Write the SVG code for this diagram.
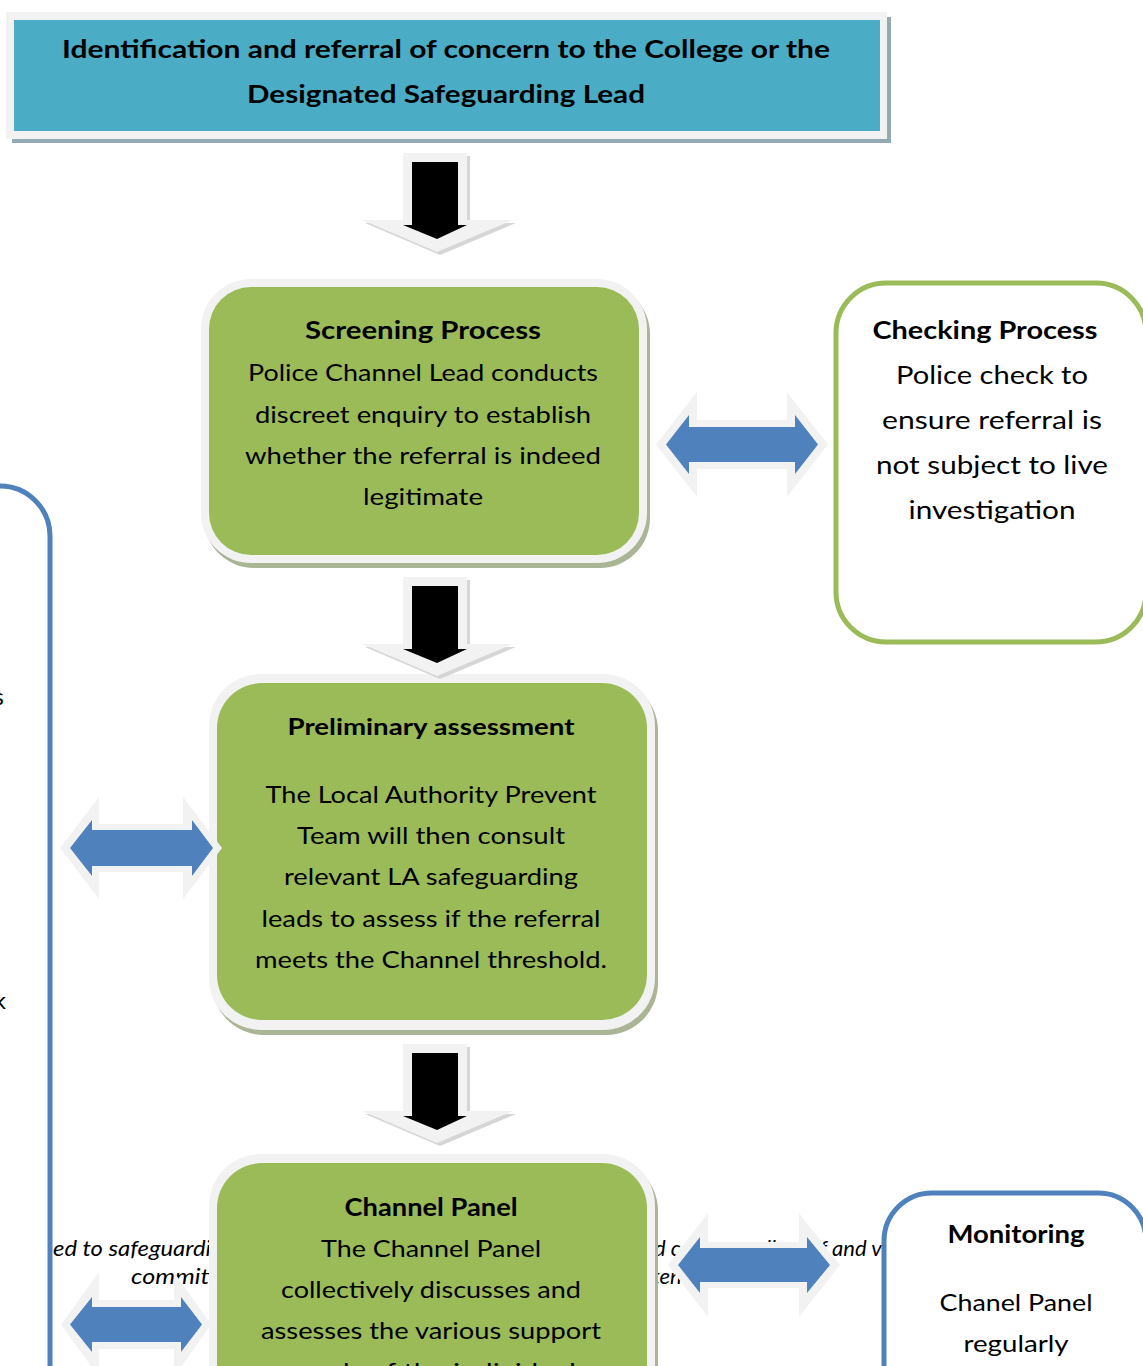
<svg xmlns="http://www.w3.org/2000/svg" xmlns:xlink="http://www.w3.org/1999/xlink" width="1143" height="1366" viewBox="0 0 1143 1366">
<defs>
<style>
.t{font-family:Lato,"Open Sans","Noto Sans",sans-serif;fill:#000;text-anchor:middle}
.b{font-weight:bold}
.i{font-family:Lato,"Open Sans","Noto Sans",sans-serif;font-style:italic;font-size:22px;fill:#000}
.frame{fill:#F2F2F2}
.gshadow{fill:#A9B595}
.green{fill:#9BBB59}
.halo{fill:#F2F2F2}
.blue{fill:#4F81BD}
.gline{fill:#fff;stroke:#9BBB59;stroke-width:5}
.bline{fill:#fff;stroke:#4F81BD;stroke-width:5}
</style>
<g id="downArrow">
<path d="M406 156 L470 156 L470 223 L516 223 L440 255 L365 223 L406 223 Z" fill="#D6D6D6"/>
<path d="M403 153 L467 153 L467 220 L513 220 L437 252 L362 220 L403 220 Z" fill="#F2F2F2"/>
<path d="M412 162 L458 162 L458 225 L467 225 L437 239 L403 225 L412 225 Z" fill="#000"/>
</g>
</defs>
<rect width="1143" height="1366" fill="#fff"/>

<!-- partially hidden italic text -->
<g id="hidden-text">
<text class="i" x="53" y="1256" textLength="158" lengthAdjust="spacingAndGlyphs">ed to safeguardi</text>
<text class="i" x="131" y="1284" textLength="86" lengthAdjust="spacingAndGlyphs">committ</text>
<text class="i" x="654" y="1256">d c</text>
<text class="i" x="766" y="1256">ll</text>
<text class="i" x="820" y="1256">f and v</text>
<text class="i" x="652" y="1284">ten</text>
</g>

<g id="node-left">
<rect x="-300" y="486" width="350" height="1000" rx="50" class="bline" stroke-width="6"/>
<text class="t" x="4" y="705" font-size="24" style="text-anchor:end">s</text>
<text class="t" x="6" y="1009" font-size="24" style="text-anchor:end">k</text>
</g>

<g id="node-referral">
<rect x="12" y="17" width="879" height="126" fill="#93A9B3"/>
<rect x="6" y="12" width="881" height="127" class="frame"/>
<rect x="14" y="20" width="866" height="111" fill="#4BACC6"/>
<text class="t b" x="446" y="58" font-size="24" textLength="768" lengthAdjust="spacingAndGlyphs">Identification and referral of concern to the College or the</text>
<text class="t b" x="446" y="103" font-size="24" textLength="398" lengthAdjust="spacingAndGlyphs">Designated Safeguarding Lead</text>
</g>

<g id="node-screening">
<rect x="204" y="284" width="446" height="284" rx="50" class="gshadow"/>
<rect x="201" y="279" width="446" height="284" rx="50" class="frame"/>
<rect x="209" y="287" width="430" height="268" rx="42" class="green"/>
<text class="t b" x="423" y="339" font-size="24" textLength="236" lengthAdjust="spacingAndGlyphs">Screening Process</text>
<text class="t" x="423" y="381" font-size="24" textLength="350" lengthAdjust="spacingAndGlyphs">Police Channel Lead conducts</text>
<text class="t" x="423" y="423" font-size="24" textLength="336" lengthAdjust="spacingAndGlyphs">discreet enquiry to establish</text>
<text class="t" x="423" y="464" font-size="24" textLength="356" lengthAdjust="spacingAndGlyphs">whether the referral is indeed</text>
<text class="t" x="423" y="505" font-size="24" textLength="120" lengthAdjust="spacingAndGlyphs">legitimate</text>
</g>

<g id="node-checking">
<rect x="836" y="283" width="310" height="359" rx="50" class="gline"/>
<text class="t b" x="985" y="339" font-size="25" textLength="225" lengthAdjust="spacingAndGlyphs">Checking Process</text>
<text class="t" x="992" y="384" font-size="25" textLength="192" lengthAdjust="spacingAndGlyphs">Police check to</text>
<text class="t" x="992" y="429" font-size="25" textLength="220" lengthAdjust="spacingAndGlyphs">ensure referral is</text>
<text class="t" x="992" y="474" font-size="25" textLength="232" lengthAdjust="spacingAndGlyphs">not subject to live</text>
<text class="t" x="992" y="519" font-size="25" textLength="167" lengthAdjust="spacingAndGlyphs">investigation</text>
</g>

<g id="node-preliminary">
<rect x="212" y="679" width="446" height="356" rx="52" class="gshadow"/>
<rect x="209" y="674" width="446" height="356" rx="52" class="frame"/>
<rect x="217" y="683" width="430" height="337" rx="45" class="green"/>
<text class="t b" x="431" y="735" font-size="22" textLength="287" lengthAdjust="spacingAndGlyphs">Preliminary assessment</text>
<text class="t" x="431" y="803" font-size="24" textLength="331" lengthAdjust="spacingAndGlyphs">The Local Authority Prevent</text>
<text class="t" x="431" y="844" font-size="24" textLength="268" lengthAdjust="spacingAndGlyphs">Team will then consult</text>
<text class="t" x="431" y="885" font-size="24" textLength="294" lengthAdjust="spacingAndGlyphs">relevant LA safeguarding</text>
<text class="t" x="431" y="927" font-size="24" textLength="339" lengthAdjust="spacingAndGlyphs">leads to assess if the referral</text>
<text class="t" x="431" y="968" font-size="24" textLength="352" lengthAdjust="spacingAndGlyphs">meets the Channel threshold.</text>
</g>

<g id="node-channel">
<rect x="212" y="1159" width="446" height="320" rx="52" class="gshadow"/>
<rect x="209" y="1154" width="446" height="320" rx="52" class="frame"/>
<rect x="217" y="1163" width="430" height="300" rx="45" class="green"/>
<text class="t b" x="431" y="1216" font-size="24" textLength="173" lengthAdjust="spacingAndGlyphs">Channel Panel</text>
<text class="t" x="431" y="1257" font-size="24" textLength="220" lengthAdjust="spacingAndGlyphs">The Channel Panel</text>
<text class="t" x="431" y="1298" font-size="24" textLength="300" lengthAdjust="spacingAndGlyphs">collectively discusses and</text>
<text class="t" x="431" y="1339" font-size="24" textLength="340" lengthAdjust="spacingAndGlyphs">assesses the various support</text>
<text class="t" x="431" y="1380" font-size="24" textLength="290" lengthAdjust="spacingAndGlyphs">needs of the individual</text>
</g>

<g id="node-monitoring">
<rect x="884" y="1193" width="262" height="300" rx="48" class="bline"/>
<text class="t b" x="1016" y="1243" font-size="24" textLength="137" lengthAdjust="spacingAndGlyphs">Monitoring</text>
<text class="t" x="1016" y="1311" font-size="24" textLength="153" lengthAdjust="spacingAndGlyphs">Chanel Panel</text>
<text class="t" x="1016" y="1352" font-size="24" textLength="105" lengthAdjust="spacingAndGlyphs">regularly</text>
</g>

<g id="connectors">
<use xlink:href="#downArrow"/>
<use xlink:href="#downArrow" transform="translate(0,424)"/>
<use xlink:href="#downArrow" transform="translate(0,891)"/>

<path class="halo" d="M656 444.5 L697 392 L697 420 L787 420 L787 392 L828 444.5 L787 497 L787 469 L697 469 L697 497 Z"/>
<path class="blue" d="M666 444.5 L689 415 L689 427 L795 427 L795 415 L818 444.5 L795 474 L795 462 L689 462 L689 474 Z"/>

<path class="halo" d="M60 848 L99 797 L99 824 L183 824 L183 797 L222 848 L183 899 L183 872 L99 872 L99 899 Z"/>
<path class="blue" d="M70 848 L92 820 L92 830 L192 830 L192 820 L213 848 L192 876 L192 866 L92 866 L92 876 Z"/>

<path class="halo" d="M668 1265 L708 1213 L708 1242 L799 1242 L799 1213 L840 1265 L799 1317 L799 1288 L708 1288 L708 1317 Z"/>
<path class="blue" d="M678 1265 L700 1237 L700 1248 L807 1248 L807 1237 L830 1265 L807 1293 L807 1282 L700 1282 L700 1293 Z"/>

<path class="halo" d="M61 1324.5 L99 1272 L99 1300 L174 1300 L174 1272 L211 1324.5 L174 1377 L174 1349 L99 1349 L99 1377 Z"/>
<path class="blue" d="M70 1324.5 L92 1297 L92 1307 L181 1307 L181 1297 L202 1324.5 L181 1352 L181 1342 L92 1342 L92 1352 Z"/>
</g>
</svg>
